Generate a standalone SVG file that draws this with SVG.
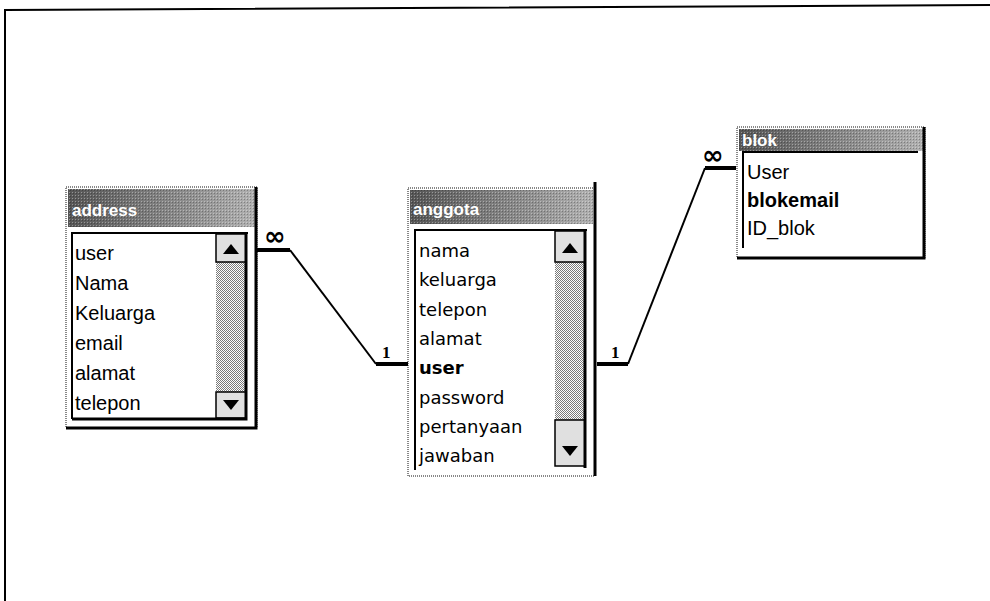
<svg xmlns="http://www.w3.org/2000/svg" width="990" height="601" viewBox="0 0 990 601">
<defs>
<pattern id="dither" width="2" height="2" patternUnits="userSpaceOnUse">
<rect width="2" height="2" fill="#ffffff"/>
<rect width="1" height="1" fill="#7a7a7a"/>
<rect x="1" y="1" width="1" height="1" fill="#7a7a7a"/>
</pattern>
<linearGradient id="hdr" x1="0" y1="0" x2="1" y2="0">
<stop offset="0" stop-color="#555555"/>
<stop offset="1" stop-color="#b0b0b0"/>
</linearGradient>
<pattern id="hdrtex" width="3" height="3" patternUnits="userSpaceOnUse">
<rect width="1" height="1" fill="#ffffff" fill-opacity="0.35"/>
<rect x="1" y="1" width="1" height="1" fill="#000000" fill-opacity="0.25"/>
</pattern>
</defs>
<style>
.outer{fill:#ffffff;stroke:#888888;stroke-width:2;stroke-dasharray:1 1}
.hdr{fill:url(#hdr)}
.hdrtex{fill:url(#hdrtex)}
.title{font-family:"Liberation Sans",Arial,sans-serif;font-size:17px;font-weight:bold;fill:#ffffff}
.content{fill:#ffffff}
.sunk{fill:none;stroke:#000000;stroke-width:2}
.shadow{fill:none;stroke:#000000;stroke-width:3}
.fld{font-family:"Liberation Sans",Arial,sans-serif;font-size:20px;fill:#000000}
.fld2{font-family:"DejaVu Sans",Verdana,sans-serif;font-size:18px;fill:#000000}
.pk{font-weight:bold}
.track{fill:url(#dither)}
.btn{fill:#e0e0e0;stroke:#000000;stroke-width:1.5}
.arrow{fill:#000000}
.thick{stroke:#000000;stroke-width:4;fill:none}
.thin{stroke:#000000;stroke-width:2;fill:none}
.inf{font-family:"DejaVu Sans",sans-serif;font-size:26px;font-weight:bold;fill:#000000}
.one{font-family:"Liberation Serif",serif;font-size:17px;font-weight:bold;fill:#000000}
</style>
<polyline points="5,601 5,10 990,5" fill="none" stroke="#000000" stroke-width="2"/>

<g id="address">
<rect class="outer" x="66" y="187" width="191" height="241"/>
<rect class="hdr" x="68" y="189" width="187" height="38"/>
<rect class="hdrtex" x="68" y="189" width="187" height="38"/>
<text class="title" x="72" y="216">address</text>
<rect class="content" x="72" y="233" width="176" height="186"/>
<polyline class="sunk" points="72,419 72,233 248,233"/>
<rect class="track" x="216" y="262" width="30" height="130"/>
<rect class="btn" x="216" y="234" width="30" height="28"/>
<polygon class="arrow" points="223,254 239,254 231,244"/>
<rect class="btn" x="216" y="392" width="30" height="26"/>
<polygon class="arrow" points="223,400 239,400 231,410"/>
<polyline class="shadow" points="246,233 246,419 72,419"/>
<polyline class="shadow" points="256,187 256,428 66,428"/>
<text class="fld" x="75" y="260">user</text>
<text class="fld" x="75" y="290">Nama</text>
<text class="fld" x="75" y="320">Keluarga</text>
<text class="fld" x="75" y="350">email</text>
<text class="fld" x="75" y="380">alamat</text>
<text class="fld" x="75" y="410">telepon</text>
</g>

<g id="anggota">
<rect class="outer" x="408" y="188" width="187" height="288"/>
<rect class="hdr" x="410" y="190" width="183" height="34"/>
<rect class="hdrtex" x="410" y="190" width="183" height="34"/>
<text class="title" x="413" y="215">anggota</text>
<rect class="content" x="415" y="230" width="172" height="240"/>
<polyline class="sunk" points="415,470 415,230 587,230"/>
<rect class="track" x="555" y="262" width="30" height="158"/>
<rect class="btn" x="555" y="231" width="30" height="31"/>
<polygon class="arrow" points="562,253 578,253 570,243"/>
<rect class="btn" x="555" y="420" width="30" height="46"/>
<polygon class="arrow" points="562,446 578,446 570,456"/>
<polyline class="shadow" points="585,230 585,468"/>
<polyline class="shadow" points="595,182 595,476"/>
<text class="fld2" x="419" y="257">nama</text>
<text class="fld2" x="419" y="286">keluarga</text>
<text class="fld2" x="419" y="316">telepon</text>
<text class="fld2" x="419" y="345">alamat</text>
<text class="fld2 pk" x="419" y="374">user</text>
<text class="fld2" x="419" y="404">password</text>
<text class="fld2" x="419" y="433">pertanyaan</text>
<text class="fld2" x="419" y="462">jawaban</text>
</g>

<g id="blok">
<rect class="outer" x="737" y="127" width="188" height="131"/>
<rect class="hdr" x="739" y="129" width="184" height="22"/>
<rect class="hdrtex" x="739" y="129" width="184" height="22"/>
<text class="title" x="742" y="146">blok</text>
<rect class="content" x="743" y="152" width="175" height="96"/>
<polyline class="sunk" points="743,248 743,152 918,152"/>
<polyline class="shadow" points="924,127 924,258 737,258"/>
<text class="fld" x="747" y="179">User</text>
<text class="fld pk" x="747" y="207">blokemail</text>
<text class="fld" x="747" y="235">ID_blok</text>
</g>

<g id="connectors">
<path class="thick" d="M257,250 H290"/>
<path class="thin" d="M290,250 L376,364"/>
<path class="thick" d="M376,364 H408"/>
<text class="inf" x="264" y="245">∞</text>
<text class="one" x="382" y="358">1</text>
<path class="thick" d="M597,364 H628"/>
<path class="thin" d="M628,364 L705,168"/>
<path class="thick" d="M705,168 H736"/>
<text class="inf" x="702" y="164">∞</text>
<text class="one" x="611" y="358">1</text>
</g>
</svg>
